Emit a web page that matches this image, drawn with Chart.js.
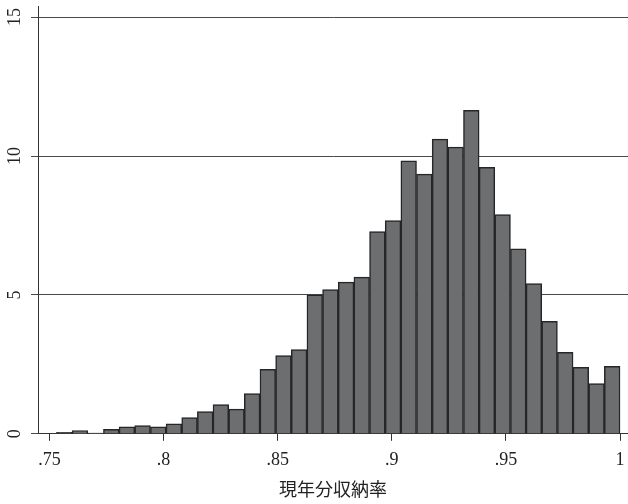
<!DOCTYPE html>
<html>
<head>
<meta charset="utf-8">
<script src="https://cdn.jsdelivr.net/npm/chart.js@4"></script>
<style>
  body { margin: 0; background: #fff; }
  #wrap { width: 628px; height: 504px; }
</style>
</head>
<body>
<div id="wrap"><canvas id="chart"></canvas></div>
<script>
// histogram of 現年分収納率 (36 bins from .7531 to 1)
const binStart = 0.7531;
const binWidth = (1 - binStart) / 36;
const counts = [
  0.05, 0.12, 0.03, 0.16, 0.25, 0.30, 0.25, 0.36, 0.58, 0.80, 1.05, 0.89,
  1.45, 2.32, 2.82, 3.03, 5.00, 5.19, 5.46, 5.64, 7.28, 7.68, 9.83, 9.35,
  10.61, 10.32, 11.64, 9.59, 7.89, 6.66, 5.41, 4.05, 2.93, 2.39, 1.81, 2.43
];
const xTicks = [0.75, 0.8, 0.85, 0.9, 0.95, 1];
const xTickLabels = ['.75', '.8', '.85', '.9', '.95', '1'];
const yTicks = [0, 5, 10, 15];
const yTickLabels = ['0', '5', '10', '15'];
const xTitle = '現年分収納率';

const serif = '"Liberation Serif", "DejaVu Serif", "Noto Sans CJK JP", serif';

const points = counts.map((c, i) => ({ x: binStart + (i + 0.5) * binWidth, y: c }));

// rotated y tick labels, like the original
const yLabelPlugin = {
  id: 'yLabels',
  afterDraw(chart) {
    const ctx = chart.ctx;
    const y = chart.scales.y;
    ctx.save();
    ctx.fillStyle = '#222';
    ctx.font = '18px ' + serif;
    ctx.textAlign = 'center';
    ctx.textBaseline = 'middle';
    yTicks.forEach((v, i) => {
      ctx.save();
      ctx.translate(15, y.getPixelForValue(v));
      ctx.rotate(-Math.PI / 2);
      ctx.fillText(yTickLabels[i], 0, 0);
      ctx.restore();
    });
    ctx.restore();
  }
};

new Chart(document.getElementById('chart'), {
  type: 'bar',
  data: {
    datasets: [{
      data: points,
      backgroundColor: '#6d6e70',
      borderColor: '#262626',
      borderWidth: 1.5,
      barPercentage: 1,
      categoryPercentage: 1
    }]
  },
  options: {
    responsive: true,
    maintainAspectRatio: false,
    animation: false,
    layout: { padding: { left: 31, right: 0, top: 6, bottom: 2 } },
    plugins: {
      legend: { display: false },
      tooltip: { enabled: false }
    },
    scales: {
      x: {
        type: 'linear',
        offset: false,
        min: 0.745,
        max: 1.0035,
        afterBuildTicks: (scale) => { scale.ticks = xTicks.map(v => ({ value: v })); },
        afterFit: (scale) => { scale.paddingRight = 0; scale.paddingLeft = 0; },
        ticks: {
          color: '#222',
          font: { family: serif, size: 18 },
          padding: 9,
          maxRotation: 0,
          callback: (v) => xTickLabels[xTicks.indexOf(v)]
        },
        grid: {
          offset: false,
          drawOnChartArea: false,
          drawTicks: true,
          tickLength: 7,
          color: '#333'
        },
        border: { color: '#333', width: 1 },
        title: {
          display: true,
          text: xTitle,
          color: '#222',
          font: { family: serif, size: 18 },
          padding: { top: 0, bottom: 0 }
        }
      },
      y: {
        min: 0,
        max: 15.4,
        afterBuildTicks: (scale) => { scale.ticks = yTicks.map(v => ({ value: v })); },
        ticks: { display: false },
        grid: {
          color: '#4a4a4a',
          lineWidth: 1,
          drawTicks: true,
          tickLength: 7
        },
        border: { color: '#333', width: 1 }
      }
    }
  },
  plugins: [yLabelPlugin]
});
</script>
</body>
</html>
